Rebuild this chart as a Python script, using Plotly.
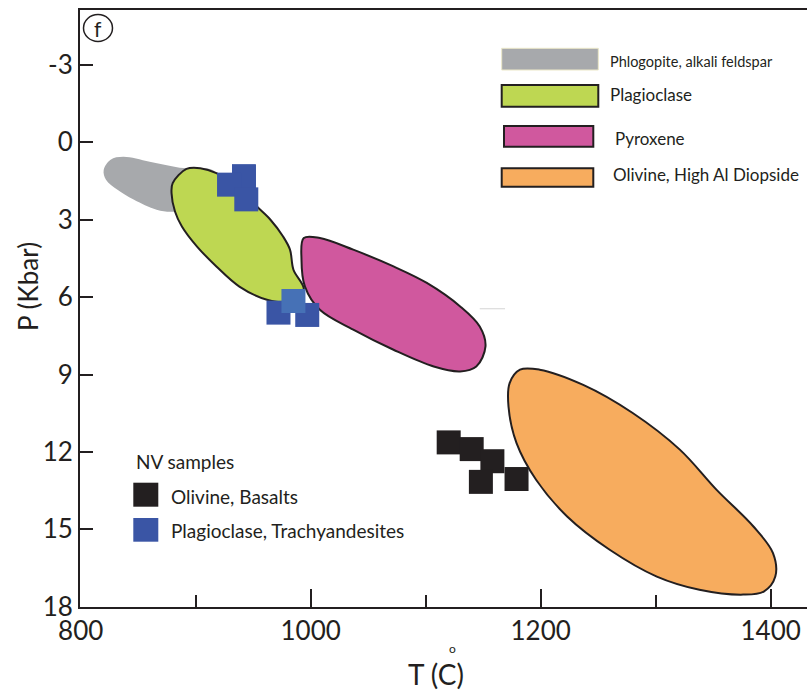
import plotly.graph_objects as go

# ---------------- data (T in °C, P in kbar) ----------------
phlog_T = [820, 826, 837, 860, 886, 917, 917, 880, 866, 846, 832, 822]
phlog_P = [1.07, 0.67, 0.56, 0.75, 0.98, 1.14, 2.42, 2.69, 2.61, 2.22, 1.84, 1.45]

plag_T = [892, 880, 879, 882, 888, 901, 918, 938, 962, 982, 994, 985, 982, 976, 965, 953, 936, 918, 904]
plag_P = [1.03, 1.58, 1.97, 2.68, 3.26, 4.03, 4.81, 5.59, 6.10, 6.17, 5.71, 4.94, 4.16, 3.65, 3.00, 2.48, 1.71, 1.19, 1.00]

pyx_T = [994, 1008, 1037, 1072, 1101, 1130, 1147, 1152, 1144, 1130, 1107, 1072, 1037, 1008, 995, 992]
pyx_P = [3.71, 3.71, 4.16, 4.81, 5.45, 6.36, 7.14, 7.91, 8.69, 8.88, 8.69, 8.04, 7.26, 6.49, 5.59, 4.55]

oliv_T = [1182, 1199, 1237, 1280, 1321, 1353, 1385, 1402, 1404, 1394, 1376, 1338, 1301, 1260, 1223, 1196, 1179, 1172, 1173]
oliv_P = [8.81, 8.81, 9.40, 10.49, 11.91, 13.47, 14.89, 15.92, 16.83, 17.41, 17.53, 17.34, 16.83, 15.79, 14.50, 13.08, 11.66, 10.24, 9.33]

basalt_T = [1120, 1140, 1158, 1148, 1179]
basalt_P = [11.63, 11.89, 12.36, 13.16, 13.05]

trachy_T = [942, 929, 944, 972, 997]
trachy_P = [1.31, 1.64, 2.21, 6.60, 6.69]
trachy_light_T = [985]
trachy_light_P = [6.15]

stray_T = [1147, 1169]
stray_P = [6.45, 6.45]

x_ticks = [800, 1000, 1200, 1400]
x_minor = [900, 1100, 1300]
y_ticks = [-3, 0, 3, 6, 9, 12, 15, 18]
y_labels = ["-3", "0", "3", "6", "9", "12", "15", "18"]

legend_regions = ["Phlogopite, alkali feldspar", "Plagioclase", "Pyroxene", "Olivine, High Al Diopside"]
sample_labels = ["Olivine, Basalts", "Plagioclase, Trachyandesites"]

# ---------------- styling ----------------
INK = "#231f20"
GRAY = "#a7a9ac"
GREEN = "#bed752"
PINK = "#d0589e"
ORANGE = "#f7ac5e"
BLUE = "#3a55a5"
BLUE_L = "#4671b6"
FONT = "Lato"

W, H = 807, 693
L, R, T, B = 80, 0, 10, 86
PW, PH = W - L - R, H - T - B
Y_BOTTOM = 18.01


def px(x):
    return (x - L) / PW


def py(y):
    return (H - B - y) / PH


fig = go.Figure()


def region(tx, pp, color, outline=True):
    fig.add_trace(go.Scatter(
        x=tx + tx[:1], y=pp + pp[:1], mode="lines", fill="toself",
        fillcolor=color,
        line=dict(color=INK if outline else color, width=2 if outline else 0,
                  shape="spline", smoothing=1.0),
        hoverinfo="skip", showlegend=False))


region(phlog_T, phlog_P, GRAY, outline=False)
region(plag_T, plag_P, GREEN)
region(pyx_T, pyx_P, PINK)
region(oliv_T, oliv_P, ORANGE)

fig.add_trace(go.Scatter(x=stray_T, y=stray_P, mode="lines",
                         line=dict(color="#d4d4d4", width=1), showlegend=False, hoverinfo="skip"))

sq = dict(symbol="square", size=24, line=dict(width=0))
fig.add_trace(go.Scatter(x=basalt_T, y=basalt_P, mode="markers",
                         marker=dict(color=INK, **sq), showlegend=False))
fig.add_trace(go.Scatter(x=trachy_T, y=trachy_P, mode="markers",
                         marker=dict(color=BLUE, **sq), showlegend=False))
fig.add_trace(go.Scatter(x=trachy_light_T, y=trachy_light_P, mode="markers",
                         marker=dict(color=BLUE_L, **sq), showlegend=False))

shapes = []
annotations = []


def box(x0, y0, x1, y1, fill, line_color, lw):
    shapes.append(dict(type="rect", xref="paper", yref="paper",
                       x0=px(x0), x1=px(x1), y0=py(y1), y1=py(y0),
                       fillcolor=fill, line=dict(color=line_color, width=lw)))


def text(x, y, s, size, anchor="left"):
    annotations.append(dict(xref="paper", yref="paper", x=px(x), y=py(y), text=s,
                            showarrow=False, xanchor=anchor, yanchor="middle",
                            font=dict(family=FONT, size=size, color=INK)))


# top-right legend
box(501.7, 48.3, 598.3, 70, GRAY, "#ece8c8", 1)
box(501.7, 85, 598.3, 106.7, GREEN, INK, 2)
box(504, 126, 593.3, 146.7, PINK, INK, 2)
box(501.7, 168.3, 593.3, 186.7, ORANGE, INK, 2)
text(608, 61.7, legend_regions[0], 14.5)
text(608, 95, legend_regions[1], 17)
text(613, 138.3, legend_regions[2], 17)
text(611, 175, legend_regions[3], 17)

# bottom-left legend
text(134, 461.7, "NV samples", 19)
box(133.3, 482.7, 158.3, 506.7, INK, INK, 0)
box(133.3, 518, 158.3, 541.7, BLUE, BLUE, 0)
text(169, 496, sample_labels[0], 19)
text(169, 530, sample_labels[1], 19)

# panel label
shapes.append(dict(type="circle", xref="paper", yref="paper",
                   x0=px(83.5), x1=px(112.5), y0=py(41.5), y1=py(14.5),
                   line=dict(color=INK, width=1.5)))
text(98, 28, "f", 21, anchor="center")

# axis titles
text(436, 674, "T (C)", 28, anchor="center")
text(453, 648, "o", 12, anchor="center")
annotations.append(dict(xref="paper", yref="paper", x=px(28), y=py(287), text="P (Kbar)",
                        showarrow=False, textangle=-90, xanchor="center", yanchor="middle",
                        font=dict(family=FONT, size=26, color=INK)))

fig.update_layout(
    width=W, height=H, margin=dict(l=L, r=R, t=T, b=B, pad=0),
    paper_bgcolor="white", plot_bgcolor="white",
    shapes=shapes, annotations=annotations, showlegend=False,
    font=dict(family=FONT, color=INK),
    xaxis=dict(range=[799.4, 799.4 + PW / 1.15], showgrid=False, zeroline=False,
               showline=True, linecolor=INK, linewidth=2, mirror=True,
               tickmode="array", tickvals=x_ticks, ticks="inside", ticklen=18,
               tickwidth=1.5, tickcolor=INK,
               tickfont=dict(family=FONT, size=26, color=INK),
               minor=dict(tickvals=x_minor, ticks="inside", ticklen=12,
                          tickwidth=1.5, tickcolor=INK, showgrid=False)),
    yaxis=dict(range=[Y_BOTTOM, Y_BOTTOM - PH / 25.8], showgrid=False, zeroline=False,
               showline=True, linecolor=INK, linewidth=2,
               tickmode="array", tickvals=y_ticks, ticktext=y_labels,
               ticks="inside", ticklen=13, tickwidth=2, tickcolor=INK,
               tickfont=dict(family=FONT, size=26, color=INK)),
)

fig.write_html("out.html")
